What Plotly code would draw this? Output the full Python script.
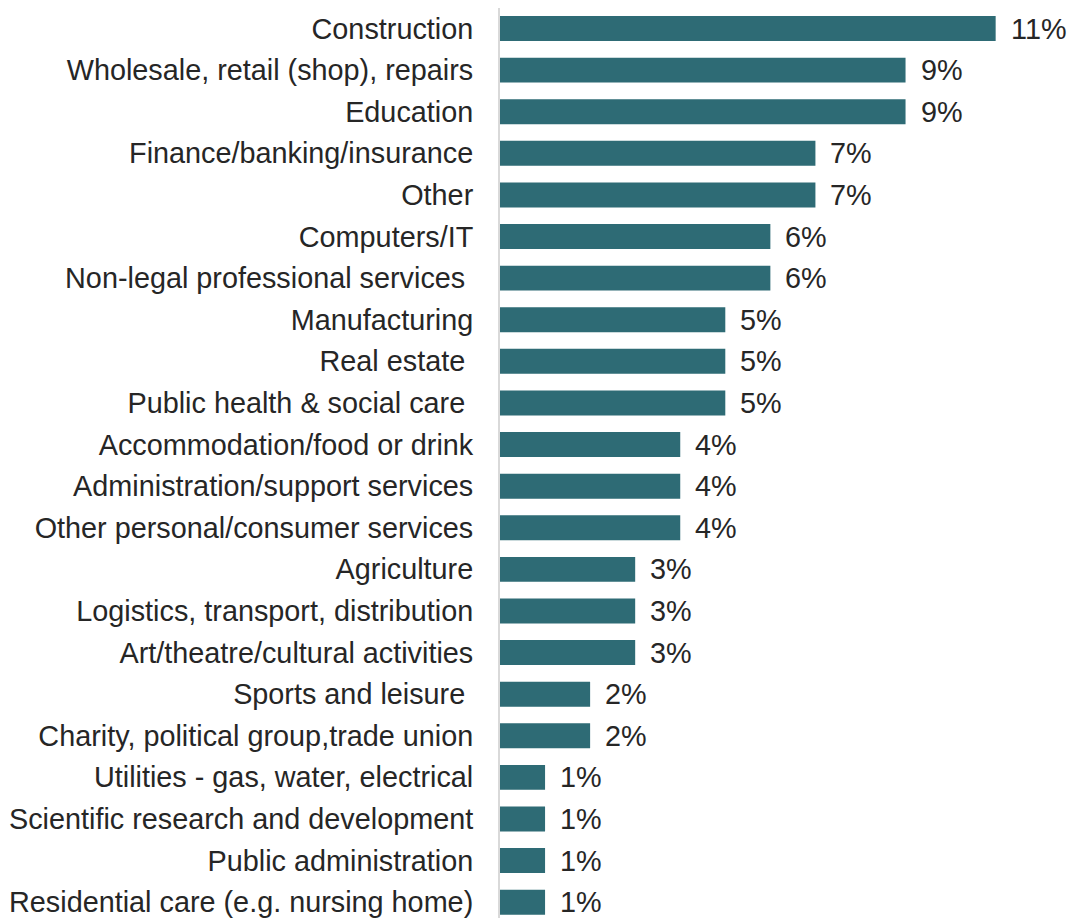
import plotly.graph_objects as go

NB = "\u00a0"

categories = [
    "Construction",
    "Wholesale, retail (shop), repairs",
    "Education",
    "Finance/banking/insurance",
    "Other",
    "Computers/IT",
    "Non-legal professional services" + NB,
    "Manufacturing",
    "Real estate" + NB,
    "Public health & social care" + NB,
    "Accommodation/food or drink",
    "Administration/support services",
    "Other personal/consumer services",
    "Agriculture",
    "Logistics, transport, distribution",
    "Art/theatre/cultural activities",
    "Sports and leisure" + NB,
    "Charity, political group,trade union",
    "Utilities - gas, water, electrical",
    "Scientific research and development",
    "Public administration",
    "Residential care (e.g. nursing home)",
]
values = [11, 9, 9, 7, 7, 6, 6, 5, 5, 5, 4, 4, 4, 3, 3, 3, 2, 2, 1, 1, 1, 1]
value_labels = [f"{v}%" for v in values]

BAR_COLOR = "#2e6b75"
TEXT_COLOR = "#262626"
FONT = "Liberation Sans, Arial, sans-serif"
FONT_SIZE = 28.8

fig = go.Figure(
    go.Bar(
        x=values,
        y=categories,
        orientation="h",
        marker=dict(color=BAR_COLOR, line=dict(width=0)),
        width=0.6,
        hoverinfo="skip",
    )
)

for cat, v, lab in zip(categories, values, value_labels):
    fig.add_annotation(
        x=v, y=cat, text=lab, showarrow=False,
        xanchor="left", yanchor="middle", xshift=13,
        font=dict(family=FONT, size=FONT_SIZE, color=TEXT_COLOR),
    )

fig.update_layout(
    width=1070,
    height=920,
    margin=dict(l=500, r=0, t=8, b=2),
    paper_bgcolor="white",
    plot_bgcolor="white",
    showlegend=False,
    font=dict(family=FONT, size=FONT_SIZE, color=TEXT_COLOR),
    xaxis=dict(
        range=[0, 570 / 45.06],
        showgrid=False, zeroline=False, showticklabels=False,
        showline=False, fixedrange=True,
    ),
    yaxis=dict(
        type="category",
        range=[21.38, -0.493],
        showgrid=False, zeroline=False,
        showline=True, linecolor="#d9d9d9", linewidth=2,
        ticks="", ticklabelstandoff=19,
        tickfont=dict(family=FONT, size=FONT_SIZE, color=TEXT_COLOR),
    ),
)

fig.write_html("out.html")
